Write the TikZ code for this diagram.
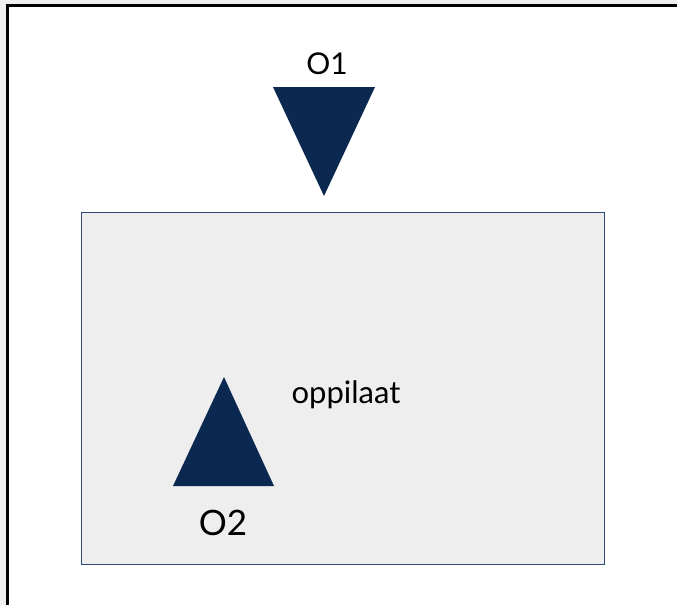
\documentclass[tikz,border=0pt]{standalone}
\usepackage{fontspec}
\setmainfont{Lato}
\definecolor{navy}{HTML}{0A2850}
\definecolor{rectborder}{HTML}{2B4A78}
\definecolor{rectfill}{HTML}{EEEEEE}
\definecolor{outergray}{HTML}{EFEFEF}
\begin{document}
\begin{tikzpicture}[x=1pt,y=-1pt,
  tri/.style={fill=navy,draw=none},
  lbl/.style={inner sep=0pt}]
\useasboundingbox (0,0) rectangle (677,605);
\fill[outergray] (0,0) rectangle (677,605);
\fill[white] (7.5,5.5) rectangle (677,605);
\draw[line width=3pt,black] (7.5,605) -- (7.5,5.5) -- (677,5.5);
\node[draw=rectborder,fill=rectfill,line width=1.3pt,minimum width=523pt,minimum height=352pt,inner sep=0pt,anchor=north west] (box) at (81,212) {};
\fill[tri] (273,87) -- (375,87) -- (324,196) -- cycle;
\node[lbl,font=\fontsize{30}{34}\selectfont] (o1) at (327,64) {O1};
\fill[tri] (224,377) -- (274,486) -- (173,486) -- cycle;
\node[lbl,font=\fontsize{35}{40}\selectfont] (o2) at (223,523) {O2};
\node[lbl,font=\fontsize{31}{36}\selectfont] (opp) at (346,395) {oppilaat};
\end{tikzpicture}
\end{document}
